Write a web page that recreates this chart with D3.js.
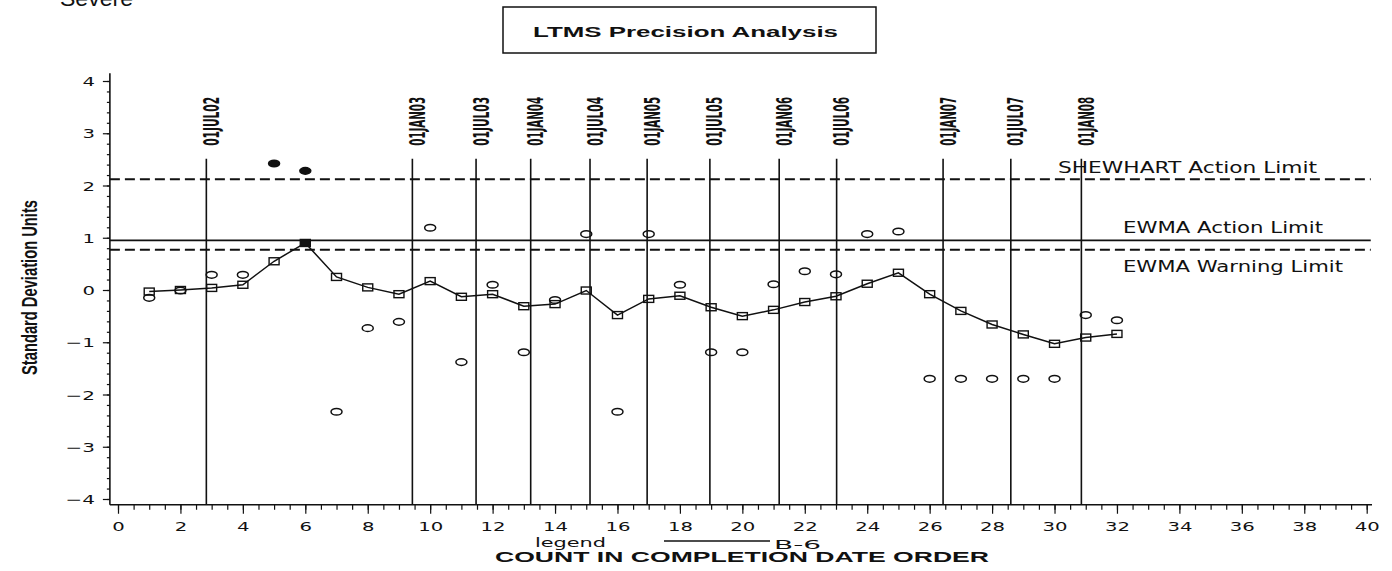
<!DOCTYPE html>
<html><head><meta charset="utf-8">
<script src="https://cdn.jsdelivr.net/npm/d3@7"></script>
<style>
html,body{margin:0;padding:0;background:#fff;}
svg{display:block;}
</style></head><body>
<svg id="chart" width="1392" height="571"></svg>
<script>
// ---- data ----
const testOrder = [1,2,3,4,5,6,7,8,9,10,11,12,13,14,15,16,17,18,19,20,21,22,23,24,25,26,27,28,29,30,31,32];
const ewmaValues = [-0.03,0.00,0.04,0.10,0.55,0.90,0.25,0.05,-0.08,0.17,-0.13,-0.08,-0.31,-0.27,-0.01,-0.48,-0.17,-0.11,-0.33,-0.50,-0.38,-0.23,-0.12,0.12,0.33,-0.08,-0.40,-0.66,-0.85,-1.03,-0.91,-0.84];
const testResults = [-0.15,-0.01,0.29,0.29,2.42,2.28,-2.33,-0.73,-0.61,1.19,-1.38,0.10,-1.19,-0.19,1.07,-2.33,1.07,0.10,-1.19,-1.19,0.11,0.36,0.30,1.07,1.12,-1.70,-1.70,-1.70,-1.70,-1.70,-0.48,-0.58];
const dateLabels = ["01JUL02","01JAN03","01JUL03","01JAN04","01JUL04","01JAN05","01JUL05","01JAN06","01JUL06","01JAN07","01JUL07","01JAN08"];
const datePositions = [2.83,9.43,11.47,13.22,15.12,16.95,18.96,21.18,23.02,26.43,28.60,30.86];
const xTickLabels = [0,2,4,6,8,10,12,14,16,18,20,22,24,26,28,30,32,34,36,38,40];
const yTickLabels = [-4,-3,-2,-1,0,1,2,3,4];
const limitNames = ["SHEWHART Action Limit","EWMA Action Limit","EWMA Warning Limit"];
const limitValues = [2.12,0.95,0.77];
const titleText = "LTMS Precision Analysis";
const yTitle = "Standard Deviation Units";
const xTitle = "COUNT IN COMPLETION DATE ORDER";
const legendSeries = "B-6";

// ---- layout ----
const svg = d3.select("#chart");
const x = d3.scaleLinear().domain([0,40]).range([118,1366.7]);
const y = d3.scaleLinear().domain([-4,4]).range([499,81]);
const xExt = [-0.26, 40.17];
const yExt = [-4.11, 4.15];
const dateTop = 2.51;
const ink = "#111";
const tickFont = "DejaVu Sans, Verdana, sans-serif";

// Severe (cut at top, as in the reference)
svg.append("text").attr("x",60).attr("y",6)
  .attr("font-family","Liberation Sans, Arial, sans-serif").attr("font-size",22)
  .attr("textLength",73).attr("lengthAdjust","spacingAndGlyphs")
  .attr("fill",ink).text("Severe");

// title box
svg.append("rect").attr("x",503).attr("y",7).attr("width",373).attr("height",46)
  .attr("fill","none").attr("stroke",ink).attr("stroke-width",1.5);
svg.append("text").attr("x",533).attr("y",37)
  .attr("font-family","Liberation Sans, Arial, sans-serif").attr("font-weight","bold").attr("font-size",14.5)
  .attr("textLength",305).attr("lengthAdjust","spacingAndGlyphs")
  .attr("fill",ink).text(titleText);

// axes lines
svg.append("line").attr("x1",x(xExt[0])).attr("x2",x(xExt[1])).attr("y1",y(yExt[0])).attr("y2",y(yExt[0]))
  .attr("stroke",ink).attr("stroke-width",1.6);
svg.append("line").attr("x1",x(xExt[0])).attr("x2",x(xExt[0])).attr("y1",y(yExt[0])).attr("y2",y(yExt[1]))
  .attr("stroke",ink).attr("stroke-width",1.6);

function labelLen(s){ let w=0; for(const ch of s){ w += ch==="\u2212" ? 17 : 12.5; } return w; }

// x axis
const gxMinor = svg.append("g").attr("transform",`translate(0,${y(yExt[0])})`)
  .call(d3.axisBottom(x).tickValues(d3.range(0,40.01,0.5)).tickSize(5).tickFormat(""));
gxMinor.select(".domain").remove();
const gx = svg.append("g").attr("transform",`translate(0,${y(yExt[0])})`)
  .call(d3.axisBottom(x).tickValues(xTickLabels).tickSize(9).tickFormat(d=>String(d)));
gx.select(".domain").remove();
gx.selectAll("text").attr("y",26.5).attr("dy",null)
  .attr("font-family",tickFont).attr("font-size",12.5).attr("fill",ink)
  .attr("textLength",function(){return labelLen(this.textContent);})
  .attr("lengthAdjust","spacingAndGlyphs");

// y axis
const gyMinor = svg.append("g").attr("transform",`translate(${x(xExt[0])},0)`)
  .call(d3.axisLeft(y).tickValues(d3.range(-4,4.01,0.2)).tickSize(3).tickFormat(""));
gyMinor.select(".domain").remove();
const gy = svg.append("g").attr("transform",`translate(${x(xExt[0])},0)`)
  .call(d3.axisLeft(y).tickValues(yTickLabels).tickSize(7).tickFormat(d=> d<0 ? "\u2212"+(-d) : String(d)));
gy.select(".domain").remove();
gy.selectAll("text").attr("x",-15).attr("y",4.5).attr("dy",null)
  .attr("font-family",tickFont).attr("font-size",12.5).attr("fill",ink)
  .attr("textLength",function(){return labelLen(this.textContent);})
  .attr("lengthAdjust","spacingAndGlyphs");
svg.selectAll(".tick line").attr("stroke",ink).attr("stroke-width",1.2);

// y title
svg.append("text").attr("transform",`translate(37,${287.5}) rotate(-90)`)
  .attr("text-anchor","middle")
  .attr("font-family","Liberation Sans Narrow, Liberation Sans, Arial, sans-serif").attr("font-weight","bold").attr("font-size",22)
  .attr("textLength",175).attr("lengthAdjust","spacingAndGlyphs")
  .attr("fill",ink).text(yTitle);

// limit lines
const limitDash = ["10,5", null, "10,5"];
const limitDy = [-6, -7, 22];
const limitX = [1058, 1123, 1123];
const limitLen = [259, 200, 220];
limitValues.forEach((v,i)=>{
  svg.append("line").attr("x1",x(xExt[0])).attr("x2",x(40.13)).attr("y1",y(v)).attr("y2",y(v))
    .attr("stroke",ink).attr("stroke-width",1.8).attr("stroke-dasharray",limitDash[i]);
  svg.append("text").attr("x",limitX[i]).attr("y",y(v)+limitDy[i])
    .attr("font-family",tickFont).attr("font-size",15)
    .attr("textLength",limitLen[i]).attr("lengthAdjust","spacingAndGlyphs")
    .attr("fill",ink).text(limitNames[i]);
});

// date lines
datePositions.forEach((d,i)=>{
  svg.append("line").attr("x1",x(d)).attr("x2",x(d)).attr("y1",y(dateTop)).attr("y2",y(yExt[0]))
    .attr("stroke",ink).attr("stroke-width",1.6);
  svg.append("text").attr("transform",`translate(${x(d)+12.5},${y(dateTop)-13}) rotate(-90)`)
    .attr("font-family","Liberation Sans Narrow, DejaVu Sans Condensed, Arial, sans-serif")
    .attr("font-weight","bold").attr("font-size",21)
    .attr("textLength",49).attr("lengthAdjust","spacingAndGlyphs")
    .attr("fill",ink).text(dateLabels[i]);
});

// EWMA line
svg.append("path").datum(testOrder)
  .attr("d", d3.line().x(c=>x(c)).y((c,i)=>y(ewmaValues[i])))
  .attr("fill","none").attr("stroke",ink).attr("stroke-width",1.5);

// result circles (filled when above the Shewhart action limit)
svg.selectAll("ellipse.res").data(testOrder).join("ellipse").attr("class","res")
  .attr("cx",c=>x(c)).attr("cy",(c,i)=>y(testResults[i]))
  .attr("rx",5.5).attr("ry",3.3)
  .attr("fill",(c,i)=>testResults[i]>limitValues[0]?ink:"none")
  .attr("stroke",ink).attr("stroke-width",1.5);

// EWMA squares
svg.selectAll("rect.ew").data(testOrder).join("rect").attr("class","ew")
  .attr("x",c=>x(c)-5).attr("y",(c,i)=>y(ewmaValues[i])-3.5)
  .attr("width",10).attr("height",7)
  .attr("fill",(c,i)=>ewmaValues[i]>limitValues[2]?ink:"none")
  .attr("stroke",ink).attr("stroke-width",1.4);

// legend + x title
svg.append("text").attr("x",535).attr("y",547)
  .attr("font-family",tickFont).attr("font-size",13)
  .attr("textLength",71).attr("lengthAdjust","spacingAndGlyphs")
  .attr("fill",ink).text("legend");
svg.append("line").attr("x1",664).attr("x2",770).attr("y1",541).attr("y2",541)
  .attr("stroke",ink).attr("stroke-width",1.5);
svg.append("text").attr("x",774).attr("y",549)
  .attr("font-family",tickFont).attr("font-size",13)
  .attr("textLength",47).attr("lengthAdjust","spacingAndGlyphs")
  .attr("fill",ink).text(legendSeries);
svg.append("text").attr("x",495).attr("y",562)
  .attr("font-family","Liberation Sans, Arial, sans-serif").attr("font-weight","bold").attr("font-size",14)
  .attr("textLength",494).attr("lengthAdjust","spacingAndGlyphs")
  .attr("fill",ink).text(xTitle);
</script>
</body></html>
